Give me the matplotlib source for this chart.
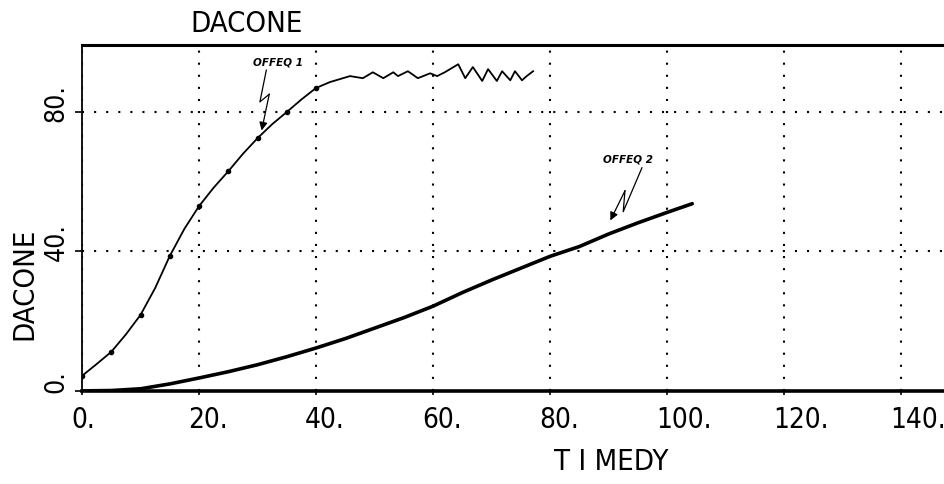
import matplotlib
matplotlib.use("Agg")
import matplotlib.pyplot as plt
import matplotlib.transforms as mtransforms

# Offeq 1: fast rise, then ripples around 90
offeq1_x = [0, 2.5, 5, 7.5, 10, 12.5, 15, 17.5, 20, 22.5, 25, 27.5, 30, 32.5, 35, 37.5, 40,
            42.4, 45.8, 48, 49.7, 51.5, 53.2, 54, 55.7, 57.4, 59.5, 60.7, 62, 64.3, 65.5,
            66.8, 68.4, 69.4, 70.9, 71.8, 73.2, 74, 75.2, 76, 77.1]
offeq1_y = [4.3, 7.7, 11.2, 16.2, 21.8, 29.5, 38.7, 46.5, 53, 58.3, 63, 68, 72.5, 76.5, 80, 83.6, 86.9,
            88.6, 90.3, 89.7, 91.4, 89.7, 91.4, 90.3, 91.7, 89.7, 91.1, 90.3, 91.4, 93.7, 89.7,
            92.9, 88.9, 92.3, 88.9, 91.7, 89.1, 91.7, 89.1, 90.3, 91.7]
# sample points marked on offeq 1
offeq1_pts_x = [0, 5, 10, 15, 20, 25, 30, 35, 40]
offeq1_pts_y = [4.3, 11.2, 21.8, 38.7, 53, 63, 72.5, 80, 86.9]

# Offeq 2: slow, nearly linear growth
offeq2_x = [0, 5, 10, 15, 20, 25, 30, 35, 40, 45, 50, 55, 60, 65, 70, 75, 80, 85, 90, 95, 100, 104.3]
offeq2_y = [0, 0.1, 0.6, 2, 3.7, 5.5, 7.5, 9.8, 12.3, 15, 18, 21, 24.3, 28.2, 31.8, 35.2, 38.6, 41.4,
            45, 48.2, 51.2, 53.7]

x_ticks = [0, 20, 40, 60, 80, 100, 120, 140]
x_tick_labels = ["0.", "20.", "40.", "60.", "80.", "100.", "120.", "140."]
y_ticks = [0, 40, 80]
y_tick_labels = ["0.", "40.", "80."]

plt.rcParams['font.family'] = ["DejaVu Sans"]
plt.rcParams['font.stretch'] = "condensed"

fig = plt.figure(figsize=(9.45, 4.85), dpi=100)
ax = fig.add_axes([0.0868, 0.192, 1 - 0.0868, 0.713])

ax.plot(offeq1_x, offeq1_y, color="black", lw=1.3, solid_joinstyle="round")
ax.plot(offeq1_pts_x, offeq1_pts_y, ls="none", marker="o", ms=3, color="black")
ax.plot(offeq2_x, offeq2_y, color="black", lw=2.6, solid_capstyle="round")

ax.set_xlim(0, 147.5)
ax.set_ylim(0, 99.2)

ax.set_xticks(x_ticks)
ax.set_xticklabels(x_tick_labels)
ax.set_yticks(y_ticks)
ax.set_yticklabels(y_tick_labels, rotation=90, va="center")

ax.tick_params(axis="x", direction="out", length=3, width=1.2, pad=7, labelsize=20)
ax.tick_params(axis="y", direction="out", length=5, width=1.2, pad=4, labelsize=19)

# plotter-style labels start a little left of the tick
for lab in ax.get_xticklabels():
    lab.set_ha("left")
    lab.set_transform(lab.get_transform() + mtransforms.ScaledTranslation(-11 / 100, 0, fig.dpi_scale_trans))
for lab in ax.get_yticklabels():
    lab.set_transform(lab.get_transform() + mtransforms.ScaledTranslation(0, 10 / 100, fig.dpi_scale_trans))

ax.grid(True, color="black", linestyle=(0, (1, 4.8)), linewidth=1.5)
ax.set_axisbelow(True)

ax.spines["right"].set_visible(False)
ax.spines["top"].set_linewidth(2.2)
ax.spines["bottom"].set_linewidth(2.6)
ax.spines["left"].set_linewidth(1.3)

fig.text(247 / 945, 1 - 24 / 485, "DACONE", ha="center", va="center", fontsize=21)
fig.text(24 / 945, 1 - 284 / 485, "DACONE", ha="center", va="center", rotation=90, fontsize=21)
fig.text(611 / 945, 1 - 462 / 485, "T I MEDY", ha="center", va="center", fontsize=21)

# hand-lettered curve labels with lightning-bolt pointers
ax.text(33.5, 94.6, "OFFEQ 1", ha="center", va="center", fontsize=7.5,
        style="italic", fontweight="bold", fontstretch="normal")
ax.plot([31.5, 30.4, 32.0], [92, 82.9, 85.1], color="black", lw=0.9)
ax.annotate("", xy=(30.7, 74.7), xytext=(32.0, 85.1),
            arrowprops=dict(arrowstyle="-|>", color="black", lw=0.9, mutation_scale=12,
                            shrinkA=0, shrinkB=0))

ax.text(93.3, 66.6, "OFFEQ 2", ha="center", va="center", fontsize=7.5,
        style="italic", fontweight="bold", fontstretch="normal")
ax.plot([95.7, 92.5, 92.8], [64, 51.4, 57.4], color="black", lw=0.9)
ax.annotate("", xy=(90.3, 48.9), xytext=(92.8, 57.4),
            arrowprops=dict(arrowstyle="-|>", color="black", lw=0.9, mutation_scale=12,
                            shrinkA=0, shrinkB=0))

fig.savefig("out.png", dpi=100)
